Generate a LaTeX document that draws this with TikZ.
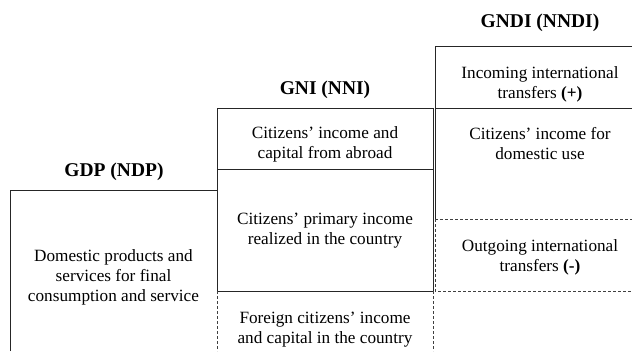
\documentclass[tikz,border=0pt]{standalone}
\usepackage{fontspec}
\setmainfont{Liberation Serif}
\begin{document}
\begin{tikzpicture}[x=1pt,y=-1pt,
  solidline/.style={draw=black!85,line width=0.8pt},
  dashline/.style={draw=black!75,line width=0.7pt,dash pattern=on 3pt off 2pt},
  body/.style={align=center,inner sep=0pt,font=\fontsize{17.2}{20}\selectfont},
  head/.style={inner sep=0pt,font=\fontsize{19.5}{22}\selectfont\bfseries}]
\useasboundingbox (0,0) rectangle (632,351);
% GDP column
\coordinate (gdpBL) at (10,351);
\coordinate (gdpTL) at (10,190);
\coordinate (gdpTR) at (217,190);
\draw[solidline] (gdpBL) -- (gdpTL) -- (gdpTR);
% GNI column
\coordinate (gniTL) at (217,108);
\coordinate (gniTR) at (433,108);
\coordinate (gniML) at (217,169);
\coordinate (gniMR) at (433,169);
\coordinate (gniBL) at (217,291);
\coordinate (gniBR) at (433,291);
\coordinate (gniEL) at (217,351);
\coordinate (gniER) at (433,351);
\draw[solidline] (gniTL) rectangle (gniBR);
\draw[solidline] (gniML) -- (gniMR);
\draw[dashline] (gniBL) -- (gniEL);
\draw[dashline] (gniBR) -- (gniER);
% GNDI column
\coordinate (gndiTL) at (435,46);
\coordinate (gndiTR) at (632,46);
\coordinate (gndiML) at (435,108);
\coordinate (gndiMR) at (632,108);
\coordinate (gndiLL) at (435,219);
\coordinate (gndiLR) at (632,219);
\coordinate (gndiBL) at (435,291);
\coordinate (gndiBR) at (632,291);
\draw[solidline] (gndiTR) -- (gndiTL) -- (gndiLL);
\draw[solidline] (gndiML) -- (gndiMR);
\draw[dashline] (gndiLL) -- (gndiLR);
\draw[dashline] (gndiLL) -- (gndiBL) -- (gndiBR);
% headings
\node[head] (hgdp) at (114,172) {GDP (NDP)};
\node[head] (hgni) at (325,89.5) {GNI (NNI)};
\node[head] (hgndi) at (540,23) {GNDI (NNDI)};
% texts
\node[body] (dom) at (113.5,277) {Domestic products and\\services for final\\consumption and service};
\node[body] (abroad) at (325,144) {Citizens' income and\\capital from abroad};
\node[body] (primary) at (325,230.5) {Citizens' primary income\\realized in the country};
\node[body] (foreign) at (325,329.5) {Foreign citizens' income\\and capital in the country};
\node[body] (incoming) at (540,84) {Incoming international\\transfers \textbf{(+)}};
\node[body] (domuse) at (540,144) {Citizens' income for\\domestic use};
\node[body] (outgoing) at (540,257) {Outgoing international\\transfers \textbf{(-)}};
\end{tikzpicture}
\end{document}
